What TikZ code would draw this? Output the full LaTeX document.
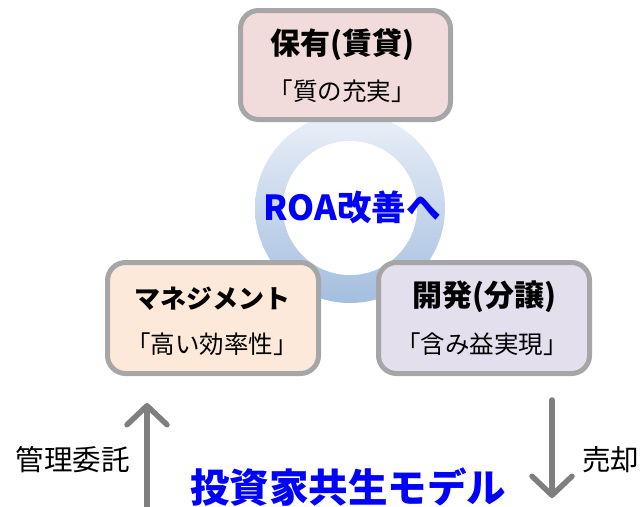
\documentclass[tikz,border=0pt]{standalone}
\usepackage{fontspec}
\setmainfont{Noto Sans CJK JP}
\usetikzlibrary{arrows.meta}
\definecolor{boxline}{HTML}{A6A6A6}
\definecolor{pinkf}{HTML}{F2DCDB}
\definecolor{peachf}{HTML}{FDE9D9}
\definecolor{lavf}{HTML}{E4DFEC}
\definecolor{ringtop}{HTML}{EAF0F8}
\definecolor{ringbot}{HTML}{A4BEDF}
\definecolor{arrowgray}{HTML}{7F7F7F}
\definecolor{vivid}{HTML}{0000FF}
\tikzset{
  box/.style={draw=boxline, line width=5pt, rounded corners=18pt, rectangle, minimum width=211pt, minimum height=111pt},
  title/.style={font=\bfseries\fontsize{#1}{#1}\selectfont, text=black, inner sep=0pt},
  subtitle/.style={font=\fontsize{24.5}{28}\selectfont, text=black, inner sep=0pt},
  side/.style={font=\fontsize{28.5}{32}\selectfont, text=black, inner sep=0pt},
  bluebig/.style={font=\bfseries\fontsize{#1}{#1}\selectfont, text=vivid, inner sep=0pt},
  flowarrow/.style={draw=arrowgray, line width=5.5pt, line cap=round, -{Straight Barb[length=19pt,width=40pt,round]}}
}
\begin{document}
\begin{tikzpicture}[x=1pt,y=-1pt]
\useasboundingbox (0,0) rectangle (642,506);
% ring
\shade[top color=ringtop, bottom color=ringbot] (350,208) circle (95pt);
\fill[white] (350,208) circle (67pt);
\node[bluebig=34.5] (roa) at (352,207) {ROA改善へ};
% boxes
\node[box, fill=pinkf, minimum width=210pt, minimum height=109pt] (hold) at (345.5,65) {};
\node[box, fill=peachf] (mgmt) at (213,318) {};
\node[box, fill=lavf] (dev) at (484,318) {};
% texts
\node[title=30] (holdT) at (342,45) {保有(賃貸)};
\node[subtitle] (holdS) at (342,91) {「質の充実」};
\node[title=26] (mgmtT) at (212,299) {マネジメント};
\node[subtitle] (mgmtS) at (212,344) {「高い効率性」};
\node[title=30] (devT) at (484,297) {開発(分譲)};
\node[subtitle] (devS) at (482,344) {「含み益実現」};
% arrows
\coordinate (upS) at (147,512);
\coordinate (upE) at (147,403);
\coordinate (dnS) at (552,400);
\coordinate (dnE) at (552,498);
\draw[flowarrow] (upS) -- (upE);
\draw[flowarrow] (dnS) -- (dnE);
\node[side, anchor=east] (kanri) at (130,460) {管理委託};
\node[side, anchor=west] (baikyaku) at (582,460) {売却};
\node[bluebig=39.5] (model) at (348,487) {投資家共生モデル};
\end{tikzpicture}
\end{document}
